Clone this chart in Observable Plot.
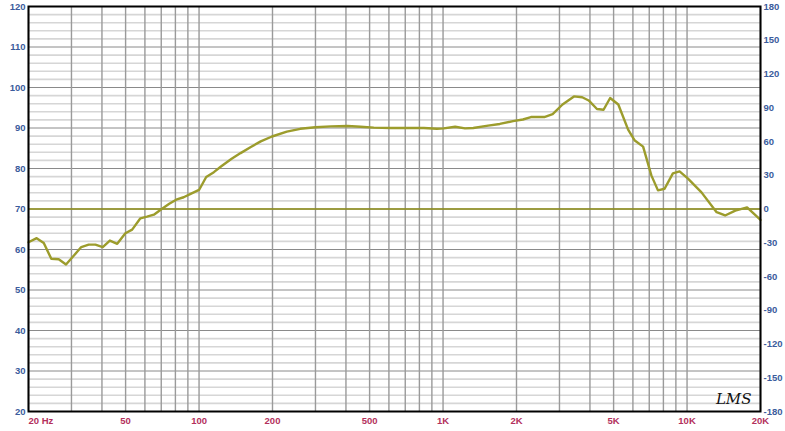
<!DOCTYPE html>
<html>
<head>
<meta charset="utf-8">
<script src="https://cdn.jsdelivr.net/npm/d3@7"></script>
<script src="https://cdn.jsdelivr.net/npm/@observablehq/plot@0.6"></script>
<style>
  html, body { margin: 0; padding: 0; background: #fff; }
  #chart svg { display: block; }
</style>
</head>
<body>
<div id="chart"></div>
<script>
// Frequency response (Hz, dB SPL)
const freqs = [20, 21.6, 23.1, 24.8, 26.6, 28.5, 30.7, 32.9, 35.3, 37.6, 40.3, 43.1, 46.2, 49.9, 53.2, 57.5, 61.2, 65.3, 70.3, 75.5, 80.6, 86.5, 92.8, 100,
  107, 115, 123, 136, 148, 163, 179, 199, 229, 260, 300, 347, 406, 459, 520, 611, 714, 834, 944, 1006, 1121, 1231, 1330, 1530, 1708, 1935, 2125, 2292, 2600, 2813,
  3088, 3440, 3716, 3953, 4273, 4548, 4840, 5228, 5735, 6107, 6606, 7140, 7600, 8090, 8750, 9320, 10090, 11460, 13220, 14320, 15770, 17620, 20000];
const spl = [61.8, 62.8, 61.6, 57.7, 57.6, 56.3, 58.5, 60.6, 61.2, 61.2, 60.6, 62.2, 61.4, 64.0, 64.9, 67.7, 68.1, 68.6, 70.0, 71.3, 72.3, 72.9, 73.8, 74.7,
  77.9, 79.1, 80.5, 82.4, 83.8, 85.3, 86.7, 87.9, 89.1, 89.8, 90.2, 90.4, 90.5, 90.3, 90.1, 90.0, 90.0, 90.0, 89.8, 89.9, 90.3, 89.9, 90.0, 90.6, 91.0, 91.7, 92.1, 92.7, 92.7, 93.4,
  95.8, 97.8, 97.6, 96.8, 94.7, 94.5, 97.4, 95.8, 89.6, 86.9, 85.4, 78.3, 74.6, 75.0, 78.8, 79.3, 77.5, 74.1, 69.2, 68.4, 69.6, 70.4, 67.3];

// Phase reference line (0 deg) in dB coordinates
const phaseZeroDb = [70];

// Grid
const vGrid = [20,30,40,50,60,70,80,90,100,200,300,400,500,600,700,800,900,1000,2000,3000,4000,5000,6000,7000,8000,9000,10000,20000];
const hMinor = d3.range(22, 120, 2).filter(v => v % 10 !== 0);
const hMajor = [30,40,50,60,70,80,90,100,110];

// Tick labels
const yTicks = [20,30,40,50,60,70,80,90,100,110,120];
const xTicks = [50,100,200,500,1000,2000,5000,10000,20000];
const xLabels = ["50","100","200","500","1K","2K","5K","10K","20K"];
const phaseTicks = [180,150,120,90,60,30,0,-30,-60,-90,-120,-150,-180];

const data = freqs.map((f, i) => ({f, db: spl[i]}));
const phaseToDb = p => 20 + (p + 180) / 360 * 100;

const font = "'Liberation Sans', Arial, sans-serif";
const blue = "#3b5c9c";
const red = "#b3305c";

const chart = Plot.plot({
  width: 785,
  height: 431,
  marginLeft: 28,
  marginRight: 25,
  marginTop: 6,
  marginBottom: 20,
  style: {background: "#fff", fontFamily: font},
  x: {type: "log", domain: [20, 20000], axis: null},
  y: {domain: [20, 120], axis: null},
  marks: [
    Plot.ruleY(hMinor, {stroke: "#d6d6d6", strokeWidth: 1.6}),
    Plot.ruleY(hMajor, {stroke: "#8a8a8a", strokeWidth: 1}),
    Plot.ruleX(vGrid, {stroke: "#9a9a9a", strokeWidth: 1.4}),
    Plot.ruleY(phaseZeroDb, {stroke: "#8e8e16", strokeWidth: 1.6}),
    Plot.line(data, {x: "f", y: "db", stroke: "#9c9c2c", strokeWidth: 2.4, strokeLinejoin: "round"}),
    Plot.frame({stroke: "#000", strokeWidth: 2}),
    // left axis labels
    Plot.text(yTicks, {x: 20, y: d => d, text: d => String(d), textAnchor: "end", dx: -3, fill: blue, fontSize: 9.5, fontWeight: "bold"}),
    // right axis (phase) labels
    Plot.text(phaseTicks, {x: 20000, y: d => phaseToDb(d), text: d => String(d), textAnchor: "start", dx: 3, fill: blue, fontSize: 9.5, fontWeight: "bold"}),
    // bottom labels
    Plot.text(["20 Hz"], {x: 20, y: 20, text: d => d, textAnchor: "start", dy: 9, lineAnchor: "middle", fill: red, fontSize: 9.5, fontWeight: "bold"}),
    Plot.text(xTicks, {x: d => d, y: 20, text: (d, i) => xLabels[i], textAnchor: "middle", dy: 9, lineAnchor: "middle", fill: red, fontSize: 9.5, fontWeight: "bold"}),
    // logo
    Plot.text(["LMS"], {frameAnchor: "bottom-right", text: d => d, dx: -9, dy: -8, fontSize: 15, fontStyle: "italic", fontFamily: "'DejaVu Serif', serif", fill: "#111", textAnchor: "end"})
  ]
});
document.getElementById("chart").appendChild(chart);
</script>
</body>
</html>
